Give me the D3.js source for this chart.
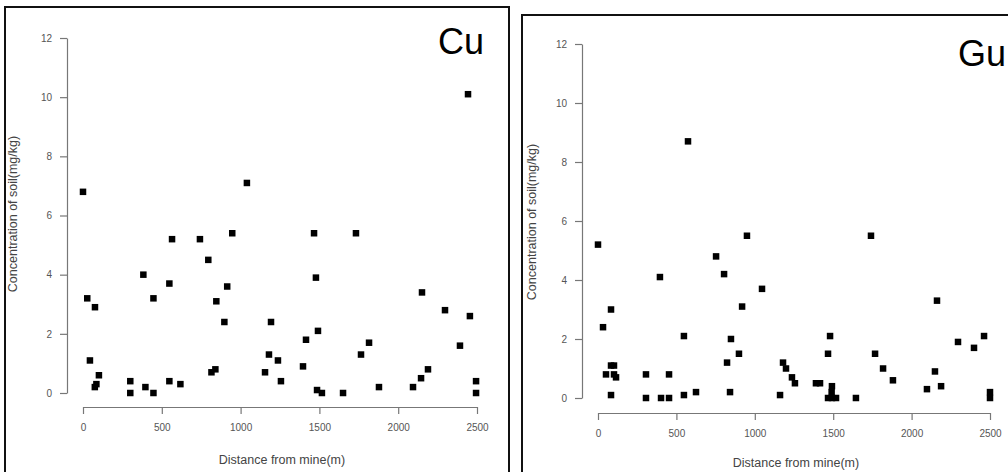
<!DOCTYPE html>
<html lang="en">
<head>
<meta charset="UTF-8">
<title>Cu / Gu soil concentration</title>
<script src="https://d3js.org/d3.v7.min.js"></script>
<style>
    body { margin: 0; padding: 0; background: #fff; overflow: hidden; }
    svg { display: block; font-family: "Liberation Sans", Arial, sans-serif; }
    .axis path, .axis line { stroke: #777; stroke-width: 1.2px; }
    .axis text { fill: #555; font-size: 10px; }
    .title { fill: #444; font-size: 12.5px; }
</style>
</head>
<body>
<script>
    // Cu panel: distance (m) and concentration (mg/kg)
    const cuDist = [0, 1040, 2443, 565, 742, 947, 1466, 1732, 795, 383, 548, 915, 27, 447, 846, 76, 897,
        44, 101, 85, 75, 300, 300, 396, 447, 548, 618, 815, 840, 1478, 2151, 2297, 2455, 1193, 1491,
        1415, 1815, 2392, 1180, 1764, 1237, 1396, 1155, 2189, 2145, 1256, 2494, 1485, 1516, 1650, 1878, 2094, 2494];
    const cuConc = [6.8, 7.1, 10.1, 5.2, 5.2, 5.4, 5.4, 5.4, 4.5, 4.0, 3.7, 3.6, 3.2, 3.2, 3.1, 2.9, 2.4,
        1.1, 0.6, 0.3, 0.2, 0.4, 0, 0.2, 0, 0.4, 0.3, 0.7, 0.8, 3.9, 3.4, 2.8, 2.6, 2.4, 2.1,
        1.8, 1.7, 1.6, 1.3, 1.3, 1.1, 0.9, 0.7, 0.8, 0.5, 0.4, 0.4, 0.1, 0, 0, 0.2, 0.2, 0];

    // Gu panel
    const guDist = [574, 950, 1741, 0, 753, 804, 395, 1046, 919, 83, 32, 548, 848, 899, 823, 83, 102,
        51, 102, 115, 306, 453, 83, 306, 402, 453, 548, 625, 842, 2162, 1480, 2296, 2462, 2398, 1467,
        1767, 1180, 1199, 1818, 1237, 1256, 2149, 1881, 1390, 1416, 1161, 2188, 2098, 1492, 1490, 1467,
        1492, 1518, 1645, 2500, 2500];
    const guConc = [8.7, 5.5, 5.5, 5.2, 4.8, 4.2, 4.1, 3.7, 3.1, 3.0, 2.4, 2.1, 2.0, 1.5, 1.2, 1.1, 1.1,
        0.8, 0.8, 0.7, 0.8, 0.8, 0.1, 0, 0, 0, 0.1, 0.2, 0.2, 3.3, 2.1, 1.9, 2.1, 1.7, 1.5,
        1.5, 1.2, 1.0, 1.0, 0.7, 0.5, 0.9, 0.6, 0.5, 0.5, 0.1, 0.4, 0.3, 0.4, 0.2, 0,
        0, 0, 0, 0.2, 0];

    const xTicks = [0, 500, 1000, 1500, 2000, 2500];
    const yTicks = [0, 2, 4, 6, 8, 10, 12];
    const xTitle = "Distance from mine(m)";
    const yTitle = "Concentration of soil(mg/kg)";

    const svg = d3.select("body").append("svg")
        .attr("width", 1008)
        .attr("height", 472);

    const panels = [
        { name: "Cu", dist: cuDist, conc: cuConc,
          frame: [5, 7, 504, 480], xr: [83, 477], yr: [393, 38], xAxisY: 407,
          yAxisX: 67, xTitleY: 464, yTitleX: 17, yTitleY: 214, labelX: 484, labelY: 54 },
        { name: "Gu", dist: guDist, conc: guConc,
          frame: [522, 15, 500, 480], xr: [598, 990], yr: [398, 44], xAxisY: 413,
          yAxisX: 582, xTitleY: 467, yTitleX: 536, yTitleY: 222, labelX: 1006, labelY: 66 }
    ];

    panels.forEach(p => {
        const g = svg.append("g");

        // frame
        g.append("rect")
            .attr("x", p.frame[0]).attr("y", p.frame[1])
            .attr("width", p.frame[2]).attr("height", p.frame[3])
            .attr("fill", "none").attr("stroke", "#111").attr("stroke-width", 2);

        const x = d3.scaleLinear().domain([0, 2500]).range(p.xr);
        const y = d3.scaleLinear().domain([0, 12]).range(p.yr);

        g.append("g")
            .attr("class", "axis")
            .attr("transform", `translate(0,${p.xAxisY})`)
            .call(d3.axisBottom(x).tickValues(xTicks).tickFormat(d3.format("d"))
                .tickSize(7).tickSizeOuter(0).tickPadding(10));

        g.append("g")
            .attr("class", "axis")
            .attr("transform", `translate(${p.yAxisX},0)`)
            .call(d3.axisLeft(y).tickValues(yTicks).tickFormat(d3.format("d"))
                .tickSize(7).tickSizeOuter(0).tickPadding(8));

        // squares
        const s = 6.5;
        g.selectAll(".pt")
            .data(p.dist.map((d, i) => ({ d: d, v: p.conc[i] })))
            .enter().append("rect")
            .attr("x", d => x(d.d) - s / 2)
            .attr("y", d => y(d.v) - s / 2)
            .attr("width", s).attr("height", s)
            .attr("fill", "#000");

        // axis titles
        g.append("text")
            .attr("class", "title")
            .attr("x", (p.xr[0] + p.xr[1]) / 2 + 2)
            .attr("y", p.xTitleY)
            .attr("text-anchor", "middle")
            .text(xTitle);

        g.append("text")
            .attr("class", "title")
            .attr("transform", `translate(${p.yTitleX},${p.yTitleY}) rotate(-90)`)
            .attr("text-anchor", "middle")
            .text(yTitle);

        // element label
        g.append("text")
            .attr("x", p.labelX)
            .attr("y", p.labelY)
            .attr("text-anchor", "end")
            .attr("font-size", 36)
            .attr("fill", "#000")
            .text(p.name);
    });
</script>
</body>
</html>
